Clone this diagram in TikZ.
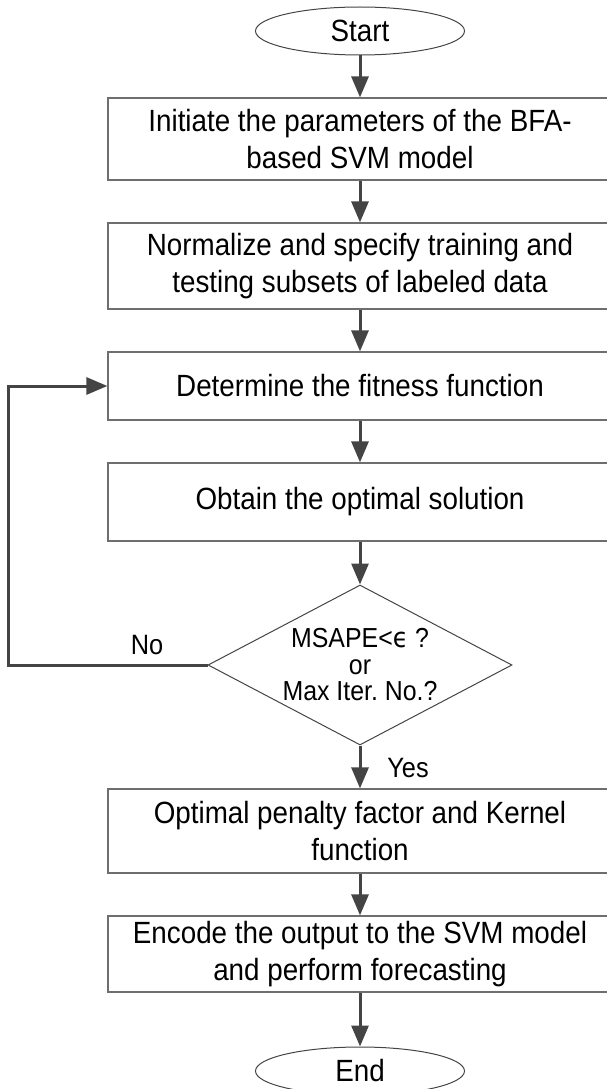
\documentclass[tikz,border=0pt]{standalone}
\usepackage{fontspec}
\setmainfont{Liberation Sans}[FakeStretch=0.905]
\newfontfamily\djv{DejaVu Sans}[FakeStretch=0.905]
\usetikzlibrary{arrows.meta,shapes.geometric}
\definecolor{arrowgray}{HTML}{444444}
\definecolor{boxgray}{HTML}{6E6E6E}
\frenchspacing
\begin{document}
\begin{tikzpicture}[x=1pt,y=-1pt,
 stepbox/.style={draw=boxgray,line width=1.2pt,minimum width=504pt,inner sep=0pt,align=center,font=\fontsize{30.7}{36.5}\selectfont},
 term/.style={ellipse,draw=arrowgray,line width=1pt,minimum width=209pt,minimum height=48pt,inner sep=0pt,font=\fontsize{30.7}{36.5}\selectfont},
 decision/.style={diamond,draw=arrowgray,line width=1pt,minimum width=304pt,minimum height=160pt,inner sep=0pt,aspect=1.9,align=center,font=\fontsize{27.5}{26.5}\selectfont},
 flow/.style={draw=arrowgray,line width=3pt,-{Triangle[length=21pt,width=17pt]}},
 lbl/.style={font=\fontsize{28}{30}\selectfont,inner sep=0pt}]
\useasboundingbox (0,0) rectangle (607,1089);
\node[term] (start) at (360,31) {Start};
\node[stepbox,minimum height=82pt] (b1) at (360,139) {Initiate the parameters of the BFA-\\based SVM model};
\node[stepbox,minimum height=86pt] (b2) at (360,266) {Normalize and specify training and\\testing subsets of labeled data};
\node[stepbox,minimum height=68pt] (b3) at (360,386) {Determine the fitness function};
\node[stepbox,minimum height=78pt] (b4) at (360,502) {Obtain the optimal solution};
\node[decision] (dec) at (360,665) {MSAPE<{\djv ϵ} ?\\or\\Max Iter. No.?};
\node[stepbox,minimum height=84pt] (b5) at (360,831) {Optimal penalty factor and Kernel\\function};
\node[stepbox,minimum height=76pt] (b6) at (360,954) {Encode the output to the SVM model\\and perform forecasting};
\node[term] (end) at (360,1071) {End};
\node[lbl] (no) at (147,645) {No};
\node[lbl] (yes) at (408,768) {Yes};
\coordinate (loopc) at (8,665);
\draw[flow] (start.south) -- (b1.north);
\draw[flow] (b1.south) -- (b2.north);
\draw[flow] (b2.south) -- (b3.north);
\draw[flow] (b3.south) -- (b4.north);
\draw[flow] (b4.south) -- (dec.north);
\draw[flow] (dec.south) -- (b5.north);
\draw[flow] (b5.south) -- (b6.north);
\draw[flow] (b6.south) -- (end.north);
\draw[flow] (dec.west) -- (loopc) |- (b3.west);
\end{tikzpicture}
\end{document}
